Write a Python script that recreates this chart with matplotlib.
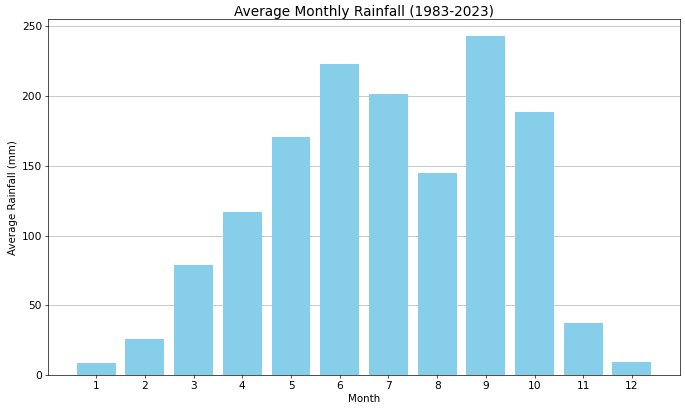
import matplotlib
matplotlib.use("Agg")
import matplotlib.pyplot as plt

# Datos
meses = list(range(1, 13))
lluvia = [8.6, 25.6, 78.5, 116.7, 171, 223, 201.5, 145, 243, 188.5, 37.5, 9.3]

fig, ax = plt.subplots(figsize=(685 / 61.5, 408 / 61.5), dpi=61.5)
ax.bar(meses, lluvia, color='skyblue')
ax.set_title('Average Monthly Rainfall (1983-2023)', fontsize=16, pad=4)
ax.set_xlabel('Month', fontsize=12)
ax.set_ylabel('Average Rainfall (mm)', fontsize=12)
ax.set_xticks(meses)
ax.tick_params(labelsize=12.5)
ax.grid(axis='y')
ax.set_axisbelow(True)
fig.subplots_adjust(left=0.070, right=0.993, top=0.953, bottom=0.081)
fig.savefig('out.png')
